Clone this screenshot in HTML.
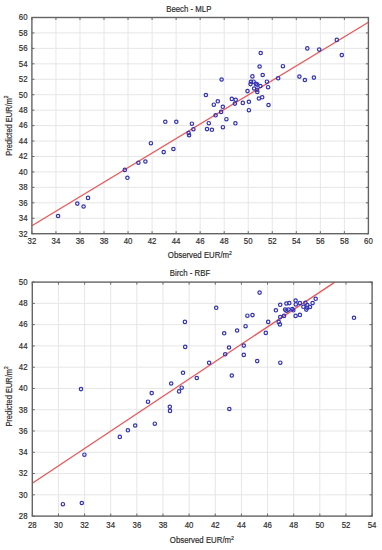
<!DOCTYPE html>
<html><head><meta charset="utf-8"><style>
html,body{margin:0;padding:0;background:#fff;}
svg{display:block;font-family:"Liberation Sans",sans-serif;}
text{stroke:#2a2a2a;stroke-width:0.18px;}
</style></head><body>
<svg width="382" height="550" viewBox="0 0 382 550">
<rect width="382" height="550" fill="#fff"/>
<path d="M55.94 17.5V233.7M79.97 17.5V233.7M104.01 17.5V233.7M128.04 17.5V233.7M152.08 17.5V233.7M176.11 17.5V233.7M200.15 17.5V233.7M224.19 17.5V233.7M248.22 17.5V233.7M272.26 17.5V233.7M296.29 17.5V233.7M320.33 17.5V233.7M344.36 17.5V233.7M31.9 218.26H368.4M31.9 202.81H368.4M31.9 187.37H368.4M31.9 171.93H368.4M31.9 156.49H368.4M31.9 141.04H368.4M31.9 125.6H368.4M31.9 110.16H368.4M31.9 94.71H368.4M31.9 79.27H368.4M31.9 63.83H368.4M31.9 48.39H368.4M31.9 32.94H368.4" stroke="#e6e6e6" stroke-width="1" fill="none"/>
<path d="M31.9 233.7v-2.5M31.9 17.5v2.5M55.94 233.7v-2.5M55.94 17.5v2.5M79.97 233.7v-2.5M79.97 17.5v2.5M104.01 233.7v-2.5M104.01 17.5v2.5M128.04 233.7v-2.5M128.04 17.5v2.5M152.08 233.7v-2.5M152.08 17.5v2.5M176.11 233.7v-2.5M176.11 17.5v2.5M200.15 233.7v-2.5M200.15 17.5v2.5M224.19 233.7v-2.5M224.19 17.5v2.5M248.22 233.7v-2.5M248.22 17.5v2.5M272.26 233.7v-2.5M272.26 17.5v2.5M296.29 233.7v-2.5M296.29 17.5v2.5M320.33 233.7v-2.5M320.33 17.5v2.5M344.36 233.7v-2.5M344.36 17.5v2.5M368.4 233.7v-2.5M368.4 17.5v2.5M31.9 233.7h2.5M368.4 233.7h-2.5M31.9 218.26h2.5M368.4 218.26h-2.5M31.9 202.81h2.5M368.4 202.81h-2.5M31.9 187.37h2.5M368.4 187.37h-2.5M31.9 171.93h2.5M368.4 171.93h-2.5M31.9 156.49h2.5M368.4 156.49h-2.5M31.9 141.04h2.5M368.4 141.04h-2.5M31.9 125.6h2.5M368.4 125.6h-2.5M31.9 110.16h2.5M368.4 110.16h-2.5M31.9 94.71h2.5M368.4 94.71h-2.5M31.9 79.27h2.5M368.4 79.27h-2.5M31.9 63.83h2.5M368.4 63.83h-2.5M31.9 48.39h2.5M368.4 48.39h-2.5M31.9 32.94h2.5M368.4 32.94h-2.5M31.9 17.5h2.5M368.4 17.5h-2.5" stroke="#646464" stroke-width="1" fill="none"/>
<path d="M31.9 225.7L368.4 22.3" stroke="#e8585a" stroke-width="1.3" fill="none"/>
<g fill="none" stroke="#3333b4" stroke-width="1.2"><circle cx="58.1" cy="216.0" r="1.7"/><circle cx="77.3" cy="203.6" r="1.7"/><circle cx="83.6" cy="206.5" r="1.7"/><circle cx="88.0" cy="197.9" r="1.7"/><circle cx="124.8" cy="169.9" r="1.7"/><circle cx="127.4" cy="177.8" r="1.7"/><circle cx="138.4" cy="162.7" r="1.7"/><circle cx="145.4" cy="161.5" r="1.7"/><circle cx="150.9" cy="143.2" r="1.7"/><circle cx="163.7" cy="152.1" r="1.7"/><circle cx="173.4" cy="149.0" r="1.7"/><circle cx="165.3" cy="121.8" r="1.7"/><circle cx="176.3" cy="121.8" r="1.7"/><circle cx="191.9" cy="123.7" r="1.7"/><circle cx="188.6" cy="133.1" r="1.7"/><circle cx="189.1" cy="135.2" r="1.7"/><circle cx="193.4" cy="129.2" r="1.7"/><circle cx="208.8" cy="123.2" r="1.7"/><circle cx="207.0" cy="129.1" r="1.7"/><circle cx="211.9" cy="129.8" r="1.7"/><circle cx="215.6" cy="115.3" r="1.7"/><circle cx="221.1" cy="111.9" r="1.7"/><circle cx="222.9" cy="127.2" r="1.7"/><circle cx="226.4" cy="119.2" r="1.7"/><circle cx="235.4" cy="123.3" r="1.7"/><circle cx="213.8" cy="104.7" r="1.7"/><circle cx="217.8" cy="101.3" r="1.7"/><circle cx="222.8" cy="106.8" r="1.7"/><circle cx="205.9" cy="95.0" r="1.7"/><circle cx="221.6" cy="79.5" r="1.7"/><circle cx="231.8" cy="98.9" r="1.7"/><circle cx="235.7" cy="99.8" r="1.7"/><circle cx="234.9" cy="103.6" r="1.7"/><circle cx="242.8" cy="102.9" r="1.7"/><circle cx="248.9" cy="101.8" r="1.7"/><circle cx="248.9" cy="110.2" r="1.7"/><circle cx="247.5" cy="91.1" r="1.7"/><circle cx="257.1" cy="89.8" r="1.7"/><circle cx="257.3" cy="91.9" r="1.7"/><circle cx="254.1" cy="88.5" r="1.7"/><circle cx="258.9" cy="98.5" r="1.7"/><circle cx="262.2" cy="97.3" r="1.7"/><circle cx="259.6" cy="66.5" r="1.7"/><circle cx="260.7" cy="53.0" r="1.7"/><circle cx="262.7" cy="75.0" r="1.7"/><circle cx="252.4" cy="76.4" r="1.7"/><circle cx="251.0" cy="81.8" r="1.7"/><circle cx="253.6" cy="81.7" r="1.7"/><circle cx="250.5" cy="84.1" r="1.7"/><circle cx="255.9" cy="83.9" r="1.7"/><circle cx="257.3" cy="84.6" r="1.7"/><circle cx="260.4" cy="86.0" r="1.7"/><circle cx="266.9" cy="81.7" r="1.7"/><circle cx="268.1" cy="87.2" r="1.7"/><circle cx="278.2" cy="78.3" r="1.7"/><circle cx="268.5" cy="105.0" r="1.7"/><circle cx="282.9" cy="66.2" r="1.7"/><circle cx="299.4" cy="76.6" r="1.7"/><circle cx="304.9" cy="80.0" r="1.7"/><circle cx="313.9" cy="77.6" r="1.7"/><circle cx="307.3" cy="48.4" r="1.7"/><circle cx="319.2" cy="49.6" r="1.7"/><circle cx="336.8" cy="39.9" r="1.7"/><circle cx="341.8" cy="55.1" r="1.7"/></g>
<rect x="31.9" y="17.5" width="336.50" height="216.20" fill="none" stroke="#646464" stroke-width="1.4"/>
<g fill="#2a2a2a" font-size="9"><text transform="translate(31.9 244.4) scale(0.87 1)" text-anchor="middle">32</text><text transform="translate(55.9 244.4) scale(0.87 1)" text-anchor="middle">34</text><text transform="translate(80.0 244.4) scale(0.87 1)" text-anchor="middle">36</text><text transform="translate(104.0 244.4) scale(0.87 1)" text-anchor="middle">38</text><text transform="translate(128.0 244.4) scale(0.87 1)" text-anchor="middle">40</text><text transform="translate(152.1 244.4) scale(0.87 1)" text-anchor="middle">42</text><text transform="translate(176.1 244.4) scale(0.87 1)" text-anchor="middle">44</text><text transform="translate(200.2 244.4) scale(0.87 1)" text-anchor="middle">46</text><text transform="translate(224.2 244.4) scale(0.87 1)" text-anchor="middle">48</text><text transform="translate(248.2 244.4) scale(0.87 1)" text-anchor="middle">50</text><text transform="translate(272.3 244.4) scale(0.87 1)" text-anchor="middle">52</text><text transform="translate(296.3 244.4) scale(0.87 1)" text-anchor="middle">54</text><text transform="translate(320.3 244.4) scale(0.87 1)" text-anchor="middle">56</text><text transform="translate(344.4 244.4) scale(0.87 1)" text-anchor="middle">58</text><text transform="translate(368.4 244.4) scale(0.87 1)" text-anchor="middle">60</text><text transform="translate(27.5 236.5) scale(0.87 1)" text-anchor="end">32</text><text transform="translate(27.5 221.1) scale(0.87 1)" text-anchor="end">34</text><text transform="translate(27.5 205.6) scale(0.87 1)" text-anchor="end">36</text><text transform="translate(27.5 190.2) scale(0.87 1)" text-anchor="end">38</text><text transform="translate(27.5 174.7) scale(0.87 1)" text-anchor="end">40</text><text transform="translate(27.5 159.3) scale(0.87 1)" text-anchor="end">42</text><text transform="translate(27.5 143.8) scale(0.87 1)" text-anchor="end">44</text><text transform="translate(27.5 128.4) scale(0.87 1)" text-anchor="end">46</text><text transform="translate(27.5 113.0) scale(0.87 1)" text-anchor="end">48</text><text transform="translate(27.5 97.5) scale(0.87 1)" text-anchor="end">50</text><text transform="translate(27.5 82.1) scale(0.87 1)" text-anchor="end">52</text><text transform="translate(27.5 66.6) scale(0.87 1)" text-anchor="end">54</text><text transform="translate(27.5 51.2) scale(0.87 1)" text-anchor="end">56</text><text transform="translate(27.5 35.7) scale(0.87 1)" text-anchor="end">58</text><text transform="translate(27.5 20.3) scale(0.87 1)" text-anchor="end">60</text></g>
<text transform="translate(188.8 11.5) scale(0.87 1)" text-anchor="middle" fill="#2a2a2a" font-size="9">Beech - MLP</text>
<text transform="translate(199.9 258.4) scale(0.87 1)" text-anchor="middle" fill="#2a2a2a" font-size="9">Observed EUR/m<tspan font-size="6" dy="-3.5">2</tspan></text>
<text transform="translate(11.7 125.6) rotate(-90) scale(0.83 1)" text-anchor="middle" fill="#2a2a2a" font-size="9">Predicted EUR/m<tspan font-size="6" dy="-3.5">2</tspan></text>
<path d="M58.44 282.1V516.1M84.58 282.1V516.1M110.72 282.1V516.1M136.85 282.1V516.1M162.99 282.1V516.1M189.13 282.1V516.1M215.27 282.1V516.1M241.41 282.1V516.1M267.55 282.1V516.1M293.68 282.1V516.1M319.82 282.1V516.1M345.96 282.1V516.1M32.3 494.83H372.1M32.3 473.55H372.1M32.3 452.28H372.1M32.3 431.01H372.1M32.3 409.74H372.1M32.3 388.46H372.1M32.3 367.19H372.1M32.3 345.92H372.1M32.3 324.65H372.1M32.3 303.37H372.1" stroke="#e6e6e6" stroke-width="1" fill="none"/>
<path d="M32.3 516.1v-2.5M32.3 282.1v2.5M58.44 516.1v-2.5M58.44 282.1v2.5M84.58 516.1v-2.5M84.58 282.1v2.5M110.72 516.1v-2.5M110.72 282.1v2.5M136.85 516.1v-2.5M136.85 282.1v2.5M162.99 516.1v-2.5M162.99 282.1v2.5M189.13 516.1v-2.5M189.13 282.1v2.5M215.27 516.1v-2.5M215.27 282.1v2.5M241.41 516.1v-2.5M241.41 282.1v2.5M267.55 516.1v-2.5M267.55 282.1v2.5M293.68 516.1v-2.5M293.68 282.1v2.5M319.82 516.1v-2.5M319.82 282.1v2.5M345.96 516.1v-2.5M345.96 282.1v2.5M372.1 516.1v-2.5M372.1 282.1v2.5M32.3 516.1h2.5M372.1 516.1h-2.5M32.3 494.83h2.5M372.1 494.83h-2.5M32.3 473.55h2.5M372.1 473.55h-2.5M32.3 452.28h2.5M372.1 452.28h-2.5M32.3 431.01h2.5M372.1 431.01h-2.5M32.3 409.74h2.5M372.1 409.74h-2.5M32.3 388.46h2.5M372.1 388.46h-2.5M32.3 367.19h2.5M372.1 367.19h-2.5M32.3 345.92h2.5M372.1 345.92h-2.5M32.3 324.65h2.5M372.1 324.65h-2.5M32.3 303.37h2.5M372.1 303.37h-2.5M32.3 282.1h2.5M372.1 282.1h-2.5" stroke="#646464" stroke-width="1" fill="none"/>
<path d="M32.3 483.2L334.9 282.1" stroke="#e8585a" stroke-width="1.3" fill="none"/>
<g fill="none" stroke="#3333b4" stroke-width="1.2"><circle cx="62.9" cy="504.2" r="1.7"/><circle cx="81.8" cy="503.0" r="1.7"/><circle cx="84.4" cy="454.7" r="1.7"/><circle cx="81.0" cy="389.1" r="1.7"/><circle cx="119.8" cy="436.9" r="1.7"/><circle cx="127.9" cy="430.3" r="1.7"/><circle cx="135.2" cy="425.5" r="1.7"/><circle cx="154.8" cy="423.7" r="1.7"/><circle cx="148.0" cy="401.7" r="1.7"/><circle cx="151.7" cy="393.1" r="1.7"/><circle cx="169.8" cy="406.8" r="1.7"/><circle cx="170.0" cy="410.9" r="1.7"/><circle cx="171.2" cy="383.5" r="1.7"/><circle cx="179.1" cy="391.4" r="1.7"/><circle cx="181.7" cy="387.7" r="1.7"/><circle cx="183.0" cy="372.8" r="1.7"/><circle cx="196.8" cy="378.0" r="1.7"/><circle cx="209.1" cy="362.8" r="1.7"/><circle cx="231.8" cy="375.5" r="1.7"/><circle cx="229.3" cy="409.0" r="1.7"/><circle cx="184.9" cy="321.9" r="1.7"/><circle cx="185.2" cy="346.9" r="1.7"/><circle cx="216.2" cy="307.8" r="1.7"/><circle cx="224.2" cy="333.3" r="1.7"/><circle cx="229.0" cy="347.5" r="1.7"/><circle cx="225.2" cy="354.3" r="1.7"/><circle cx="237.1" cy="330.5" r="1.7"/><circle cx="245.6" cy="326.2" r="1.7"/><circle cx="247.4" cy="315.7" r="1.7"/><circle cx="252.5" cy="315.1" r="1.7"/><circle cx="243.8" cy="345.6" r="1.7"/><circle cx="243.8" cy="354.9" r="1.7"/><circle cx="257.2" cy="361.1" r="1.7"/><circle cx="280.3" cy="362.7" r="1.7"/><circle cx="265.8" cy="332.9" r="1.7"/><circle cx="268.2" cy="321.9" r="1.7"/><circle cx="278.7" cy="321.9" r="1.7"/><circle cx="279.9" cy="324.4" r="1.7"/><circle cx="259.6" cy="292.6" r="1.7"/><circle cx="280.2" cy="304.8" r="1.7"/><circle cx="275.9" cy="310.3" r="1.7"/><circle cx="280.2" cy="317.1" r="1.7"/><circle cx="284.0" cy="315.9" r="1.7"/><circle cx="286.4" cy="303.5" r="1.7"/><circle cx="289.3" cy="303.1" r="1.7"/><circle cx="295.6" cy="300.5" r="1.7"/><circle cx="299.9" cy="303.1" r="1.7"/><circle cx="305.4" cy="302.8" r="1.7"/><circle cx="312.6" cy="303.1" r="1.7"/><circle cx="315.7" cy="298.8" r="1.7"/><circle cx="295.8" cy="304.4" r="1.7"/><circle cx="307.3" cy="305.1" r="1.7"/><circle cx="303.4" cy="306.8" r="1.7"/><circle cx="310.0" cy="307.0" r="1.7"/><circle cx="307.1" cy="307.7" r="1.7"/><circle cx="306.3" cy="309.6" r="1.7"/><circle cx="285.1" cy="309.6" r="1.7"/><circle cx="288.4" cy="309.6" r="1.7"/><circle cx="292.3" cy="309.0" r="1.7"/><circle cx="293.3" cy="310.3" r="1.7"/><circle cx="286.4" cy="310.7" r="1.7"/><circle cx="295.6" cy="315.9" r="1.7"/><circle cx="299.9" cy="314.9" r="1.7"/><circle cx="354.0" cy="317.8" r="1.7"/></g>
<rect x="32.3" y="282.1" width="339.80" height="234.00" fill="none" stroke="#646464" stroke-width="1.4"/>
<g fill="#2a2a2a" font-size="9"><text transform="translate(32.3 527.6) scale(0.87 1)" text-anchor="middle">28</text><text transform="translate(58.4 527.6) scale(0.87 1)" text-anchor="middle">30</text><text transform="translate(84.6 527.6) scale(0.87 1)" text-anchor="middle">32</text><text transform="translate(110.7 527.6) scale(0.87 1)" text-anchor="middle">34</text><text transform="translate(136.9 527.6) scale(0.87 1)" text-anchor="middle">36</text><text transform="translate(163.0 527.6) scale(0.87 1)" text-anchor="middle">38</text><text transform="translate(189.1 527.6) scale(0.87 1)" text-anchor="middle">40</text><text transform="translate(215.3 527.6) scale(0.87 1)" text-anchor="middle">42</text><text transform="translate(241.4 527.6) scale(0.87 1)" text-anchor="middle">44</text><text transform="translate(267.5 527.6) scale(0.87 1)" text-anchor="middle">46</text><text transform="translate(293.7 527.6) scale(0.87 1)" text-anchor="middle">48</text><text transform="translate(319.8 527.6) scale(0.87 1)" text-anchor="middle">50</text><text transform="translate(346.0 527.6) scale(0.87 1)" text-anchor="middle">52</text><text transform="translate(372.1 527.6) scale(0.87 1)" text-anchor="middle">54</text><text transform="translate(27.5 518.9) scale(0.87 1)" text-anchor="end">28</text><text transform="translate(27.5 497.6) scale(0.87 1)" text-anchor="end">30</text><text transform="translate(27.5 476.4) scale(0.87 1)" text-anchor="end">32</text><text transform="translate(27.5 455.1) scale(0.87 1)" text-anchor="end">34</text><text transform="translate(27.5 433.8) scale(0.87 1)" text-anchor="end">36</text><text transform="translate(27.5 412.5) scale(0.87 1)" text-anchor="end">38</text><text transform="translate(27.5 391.3) scale(0.87 1)" text-anchor="end">40</text><text transform="translate(27.5 370.0) scale(0.87 1)" text-anchor="end">42</text><text transform="translate(27.5 348.7) scale(0.87 1)" text-anchor="end">44</text><text transform="translate(27.5 327.4) scale(0.87 1)" text-anchor="end">46</text><text transform="translate(27.5 306.2) scale(0.87 1)" text-anchor="end">48</text><text transform="translate(27.5 284.9) scale(0.87 1)" text-anchor="end">50</text></g>
<text transform="translate(190 275.5) scale(0.87 1)" text-anchor="middle" fill="#2a2a2a" font-size="9">Birch - RBF</text>
<text transform="translate(201.9 543.4) scale(0.87 1)" text-anchor="middle" fill="#2a2a2a" font-size="9">Observed EUR/m<tspan font-size="6" dy="-3.5">2</tspan></text>
<text transform="translate(11.7 396.4) rotate(-90) scale(0.83 1)" text-anchor="middle" fill="#2a2a2a" font-size="9">Predicted EUR/m<tspan font-size="6" dy="-3.5">2</tspan></text>
</svg>
</body></html>
